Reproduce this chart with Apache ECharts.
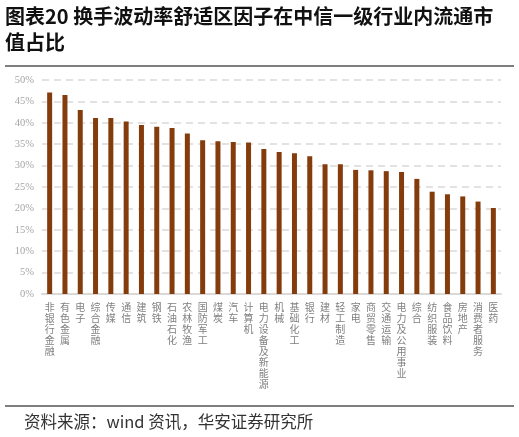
<!DOCTYPE html>
<html>
<head>
<meta charset="utf-8">
<script src="https://cdn.jsdelivr.net/npm/echarts@6/dist/echarts.min.js"></script>
<style>html,body{margin:0;padding:0;background:#fff;}#c{width:519px;height:437px;}</style>
</head>
<body>
<div id="c"></div>
<script>
const categories = ['非银行金融','有色金属','电子','综合金融','传媒','通信','建筑','钢铁','石油石化','农林牧渔','国防军工','煤炭','汽车','计算机','电力设备及新能源','机械','基础化工','银行','建材','轻工制造','家电','商贸零售','交通运输','电力及公用事业','综合','纺织服装','食品饮料','房地产','消费者服务','医药'];
const values = [47.1,46.5,43.0,41.1,41.1,40.3,39.5,39.1,38.8,37.5,35.9,35.7,35.5,35.4,33.9,33.2,32.9,32.2,30.3,30.3,29.0,28.9,28.7,28.5,26.9,23.9,23.3,22.8,21.6,20.1];
const yTicks = [0,5,10,15,20,25,30,35,40,45,50];
const titleLine1 = '图表20 换手波动率舒适区因子在中信一级行业内流通市';
const titleLine2 = '值占比';
const source = '资料来源：wind 资讯，华安证券研究所';

const chart = echarts.init(document.getElementById('c'));
chart.setOption({
  animation: false,
  backgroundColor: '#fff',
  grid: {left: 42, right: 18, top: 80, bottom: 143},
  xAxis: {
    type: 'category',
    data: categories,
    axisLine: {lineStyle: {color: '#d9d9d9', width: 2}},
    axisTick: {show: false},
    axisLabel: {
      interval: 0,
      margin: 8,
      color: '#808080',
      fontSize: 10,
      lineHeight: 11,
      fontFamily: '"Noto Sans CJK SC"',
      verticalAlign: 'top',
      formatter: v => v.split('').join('\n')
    }
  },
  yAxis: {
    type: 'value',
    min: yTicks[0],
    max: yTicks[yTicks.length - 1],
    interval: 5,
    axisLine: {show: false},
    axisTick: {show: false},
    splitLine: {lineStyle: {color: '#d9d9d9', width: 1.5, type: [7, 5]}},
    axisLabel: {
      margin: 8,
      color: '#a6a6a6',
      fontSize: 10.5,
      fontFamily: '"Liberation Serif", "DejaVu Serif", serif',
      formatter: '{value}%'
    }
  },
  series: [{
    type: 'bar',
    data: values,
    barWidth: 5,
    itemStyle: {color: '#843C0C'}
  }],
  graphic: [
    {type: 'text', left: 5, top: 6, style: {text: titleLine1, font: 'bold 20px "Noto Sans CJK SC"', fill: '#111'}},
    {type: 'text', left: 5, top: 32, style: {text: titleLine2, font: 'bold 20px "Noto Sans CJK SC"', fill: '#111'}},
    {type: 'line', shape: {x1: 5, y1: 66, x2: 514, y2: 66}, style: {stroke: '#555', lineWidth: 1.5}},
    {type: 'line', shape: {x1: 5, y1: 406, x2: 514, y2: 406}, style: {stroke: '#555', lineWidth: 1.5}},
    {type: 'text', left: 24, top: 413, style: {text: source, font: '16.5px "Noto Sans CJK SC"', fill: '#333'}}
  ]
});
</script>
</body>
</html>
